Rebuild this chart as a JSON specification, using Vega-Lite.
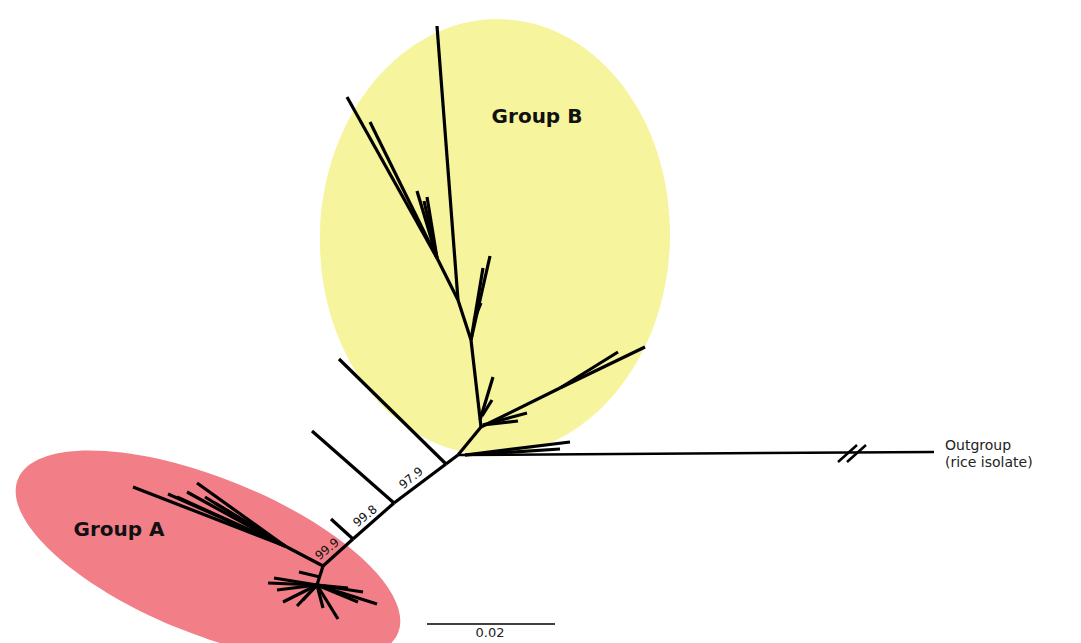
{
  "$schema": "https://vega.github.io/schema/vega-lite/v6.json",
  "width": 1081,
  "height": 643,
  "autosize": {"type": "none"},
  "padding": 0,
  "background": "white",
  "config": {"view": {"stroke": null}},
  "datasets": {
    "ellipses": [
      {"group": "B", "x": 495, "y": 237},
      {"group": "A", "x": 208, "y": 556}
    ],
    "branches": [
      {"x": 458, "y": 455, "x2": 446, "y2": 464},
      {"x": 446, "y": 464, "x2": 394, "y2": 503},
      {"x": 394, "y": 503, "x2": 353, "y2": 539},
      {"x": 353, "y": 539, "x2": 323, "y2": 566},
      {"x": 323, "y": 566, "x2": 317, "y2": 585},
      {"x": 446, "y": 464, "x2": 339, "y2": 359},
      {"x": 394, "y": 503, "x2": 312, "y2": 431},
      {"x": 353, "y": 539, "x2": 331, "y2": 519},
      {"x": 323, "y": 566, "x2": 285, "y2": 546},
      {"x": 285, "y": 546, "x2": 133, "y2": 487},
      {"x": 285, "y": 546, "x2": 197, "y2": 483},
      {"x": 285, "y": 546, "x2": 187, "y2": 492},
      {"x": 285, "y": 546, "x2": 177, "y2": 497},
      {"x": 285, "y": 546, "x2": 168, "y2": 494},
      {"x": 285, "y": 546, "x2": 205, "y2": 497},
      {"x": 285, "y": 546, "x2": 215, "y2": 503},
      {"x": 299, "y": 572, "x2": 320, "y2": 577},
      {"x": 317, "y": 585, "x2": 268, "y2": 583},
      {"x": 317, "y": 585, "x2": 274, "y2": 578},
      {"x": 317, "y": 585, "x2": 277, "y2": 590},
      {"x": 317, "y": 585, "x2": 283, "y2": 602},
      {"x": 317, "y": 585, "x2": 297, "y2": 606},
      {"x": 317, "y": 585, "x2": 303, "y2": 600},
      {"x": 317, "y": 585, "x2": 338, "y2": 619},
      {"x": 317, "y": 585, "x2": 323, "y2": 608},
      {"x": 317, "y": 585, "x2": 377, "y2": 604},
      {"x": 317, "y": 585, "x2": 363, "y2": 592},
      {"x": 317, "y": 585, "x2": 358, "y2": 602},
      {"x": 317, "y": 585, "x2": 348, "y2": 588},
      {"x": 458, "y": 455, "x2": 481, "y2": 427},
      {"x": 481, "y": 427, "x2": 471, "y2": 340},
      {"x": 471, "y": 340, "x2": 458, "y2": 300},
      {"x": 458, "y": 300, "x2": 437, "y2": 26},
      {"x": 458, "y": 300, "x2": 437, "y2": 258},
      {"x": 437, "y": 258, "x2": 347, "y2": 97},
      {"x": 437, "y": 258, "x2": 370, "y2": 122},
      {"x": 437, "y": 258, "x2": 417, "y2": 191},
      {"x": 437, "y": 258, "x2": 427, "y2": 197},
      {"x": 437, "y": 258, "x2": 424, "y2": 201},
      {"x": 471, "y": 340, "x2": 490, "y2": 256},
      {"x": 471, "y": 340, "x2": 483, "y2": 268},
      {"x": 474, "y": 320, "x2": 481, "y2": 303},
      {"x": 480, "y": 420, "x2": 493, "y2": 377},
      {"x": 482, "y": 416, "x2": 492, "y2": 400},
      {"x": 481, "y": 427, "x2": 560, "y2": 388},
      {"x": 560, "y": 388, "x2": 645, "y2": 347},
      {"x": 560, "y": 388, "x2": 618, "y2": 352},
      {"x": 483, "y": 425, "x2": 527, "y2": 413},
      {"x": 483, "y": 425, "x2": 518, "y2": 421},
      {"x": 465, "y": 455, "x2": 570, "y2": 442},
      {"x": 465, "y": 455, "x2": 560, "y2": 449}
    ],
    "thin": [
      {"x": 458, "y": 455, "x2": 934, "y2": 452, "w": "out"},
      {"x": 838, "y": 462, "x2": 857, "y2": 445, "w": "out"},
      {"x": 847, "y": 462, "x2": 866, "y2": 445, "w": "out"},
      {"x": 427, "y": 624, "x2": 555, "y2": 624, "w": "bar"}
    ],
    "bootstrap": [
      {"label": "97.9", "x": 411, "y": 478},
      {"label": "99.8", "x": 365, "y": 516},
      {"label": "99.9", "x": 327, "y": 549}
    ],
    "groups": [
      {"label": "Group B", "x": 537, "y": 117},
      {"label": "Group A", "x": 119, "y": 530}
    ],
    "outgroup": [
      {"label": "Outgroup", "x": 945, "y": 446},
      {"label": "(rice isolate)", "x": 945, "y": 463}
    ],
    "scale": [
      {"label": "0.02", "x": 490, "y": 633}
    ]
  },
  "encoding": {
    "x": {"field": "x", "type": "quantitative", "scale": {"domain": [0, 1081], "nice": false, "zero": false}, "axis": null},
    "y": {"field": "y", "type": "quantitative", "scale": {"domain": [0, 643], "nice": false, "zero": false, "reverse": true}, "axis": null}
  },
  "layer": [
    {
      "data": {"name": "ellipses"},
      "transform": [{"filter": "datum.group === 'B'"}],
      "mark": {"type": "point", "filled": true, "opacity": 1, "strokeWidth": 0, "color": "#f6f49c", "size": 40000, "angle": 2,
        "shape": "M -1.75 0 A 1.75 2.18 0 1 0 1.75 0 A 1.75 2.18 0 1 0 -1.75 0 Z"}
    },
    {
      "data": {"name": "ellipses"},
      "transform": [{"filter": "datum.group === 'A'"}],
      "mark": {"type": "point", "filled": true, "opacity": 1, "strokeWidth": 0, "color": "#f27f87", "size": 40000, "angle": 22,
        "shape": "M -2.05 0 A 2.05 0.78 0 1 0 2.05 0 A 2.05 0.78 0 1 0 -2.05 0 Z"}
    },
    {
      "data": {"name": "branches"},
      "mark": {"type": "rule", "color": "black", "strokeWidth": 3.2},
      "encoding": {
        "x2": {"field": "x2"},
        "y2": {"field": "y2"}
      }
    },
    {
      "data": {"name": "thin"},
      "transform": [{"filter": "datum.w === 'out'"}],
      "mark": {"type": "rule", "color": "black", "strokeWidth": 2.5},
      "encoding": {
        "x2": {"field": "x2"},
        "y2": {"field": "y2"}
      }
    },
    {
      "data": {"name": "thin"},
      "transform": [{"filter": "datum.w === 'bar'"}],
      "mark": {"type": "rule", "color": "black", "strokeWidth": 1.5},
      "encoding": {
        "x2": {"field": "x2"},
        "y2": {"field": "y2"}
      }
    },
    {
      "data": {"name": "bootstrap"},
      "mark": {"type": "text", "font": "DejaVu Sans", "fontSize": 12, "angle": -39, "align": "center", "baseline": "middle", "color": "#111"},
      "encoding": {"text": {"field": "label"}}
    },
    {
      "data": {"name": "groups"},
      "mark": {"type": "text", "font": "DejaVu Sans", "fontSize": 20, "fontWeight": "bold", "align": "center", "baseline": "middle", "color": "#111"},
      "encoding": {"text": {"field": "label"}}
    },
    {
      "data": {"name": "outgroup"},
      "mark": {"type": "text", "font": "DejaVu Sans", "fontSize": 14, "align": "left", "baseline": "middle", "color": "#222"},
      "encoding": {"text": {"field": "label"}}
    },
    {
      "data": {"name": "scale"},
      "mark": {"type": "text", "font": "DejaVu Sans", "fontSize": 13, "align": "center", "baseline": "middle", "color": "#222"},
      "encoding": {"text": {"field": "label"}}
    }
  ]
}
